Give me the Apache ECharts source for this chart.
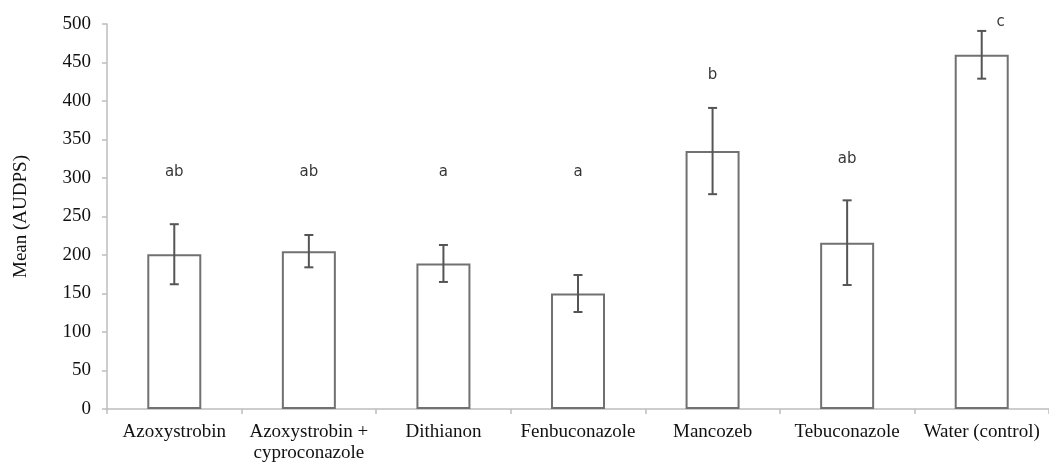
<!DOCTYPE html>
<html>
<head>
<meta charset="utf-8">
<script src="https://cdn.jsdelivr.net/npm/echarts@6/dist/echarts.min.js"></script>
<style>
  html, body { margin: 0; padding: 0; background: #fff; }
  #chart { width: 1049px; height: 466px; }
</style>
</head>
<body>
<div id="chart"></div>
<script>
// Fungicide treatments and their mean AUDPS with standard errors
const categories = ['Azoxystrobin', 'Azoxystrobin +\ncyproconazole', 'Dithianon', 'Fenbuconazole', 'Mancozeb', 'Tebuconazole', 'Water (control)'];
const means = [201, 205, 189, 150, 335, 216, 460];
const errors = [39, 21, 24, 24, 56, 55, 31];
// Significance groups and the height (in AUDPS units) each letter is written at
const letters = ['ab', 'ab', 'a', 'a', 'b', 'ab', 'c'];
const letterHeights = [308, 308, 308, 308, 434, 324, 503];
const yTicks = { min: 0, max: 500, interval: 50 };

const serif = 'Liberation Serif';
const chart = echarts.init(document.getElementById('chart'), null, { renderer: 'canvas' });

const errorData = means.map((m, i) => [i, m - errors[i], m + errors[i]]);
const letterData = letters.map((l, i) => ({
  value: [i, letterHeights[i]],
  label: i === categories.length - 1 ? { offset: [19, 0] } : {}
}));

chart.setOption({
  animation: false,
  grid: { left: 107, top: 24, bottom: 57, width: 949 },
  xAxis: {
    type: 'category',
    data: categories,
    axisLine: { show: true, lineStyle: { color: '#bdbdbd', width: 1.5 } },
    axisTick: { show: true, length: 5, lineStyle: { color: '#bdbdbd', width: 1.5 } },
    axisLabel: {
      interval: 0, margin: 13, color: '#111111',
      fontFamily: serif, fontSize: 19, lineHeight: 21
    }
  },
  yAxis: {
    type: 'value',
    min: yTicks.min, max: yTicks.max, interval: yTicks.interval,
    name: 'Mean (AUDPS)',
    nameLocation: 'middle',
    nameGap: 76,
    nameTextStyle: { fontFamily: serif, fontSize: 19, color: '#111111' },
    axisLine: { show: true, lineStyle: { color: '#bdbdbd', width: 1.5 } },
    axisTick: { show: true, length: 5, lineStyle: { color: '#bdbdbd', width: 1.5 } },
    splitLine: { show: false },
    axisLabel: { margin: 16, color: '#111111', fontFamily: serif, fontSize: 19 }
  },
  series: [
    {
      type: 'bar',
      data: means,
      barWidth: 54,
      itemStyle: { color: '#ffffff', borderColor: '#717171', borderWidth: 2 }
    },
    {
      type: 'custom',
      data: errorData,
      z: 5,
      clip: false,
      renderItem: function (params, api) {
        const x = api.value(0);
        const lo = api.coord([x, api.value(1)]);
        const hi = api.coord([x, api.value(2)]);
        const cap = 4.5;
        const style = { stroke: '#555555', lineWidth: 2 };
        return {
          type: 'group',
          children: [
            { type: 'line', shape: { x1: lo[0], y1: lo[1], x2: hi[0], y2: hi[1] }, style: style },
            { type: 'line', shape: { x1: hi[0] - cap, y1: hi[1], x2: hi[0] + cap, y2: hi[1] }, style: style },
            { type: 'line', shape: { x1: lo[0] - cap, y1: lo[1], x2: lo[0] + cap, y2: lo[1] }, style: style }
          ]
        };
      }
    },
    {
      type: 'scatter',
      data: letterData,
      symbolSize: 0,
      silent: true,
      clip: false,
      label: {
        show: true,
        position: 'inside',
        formatter: p => letters[p.dataIndex],
        fontFamily: 'DejaVu Sans',
        fontSize: 15,
        color: '#000000'
      }
    }
  ]
});
</script>
</body>
</html>
